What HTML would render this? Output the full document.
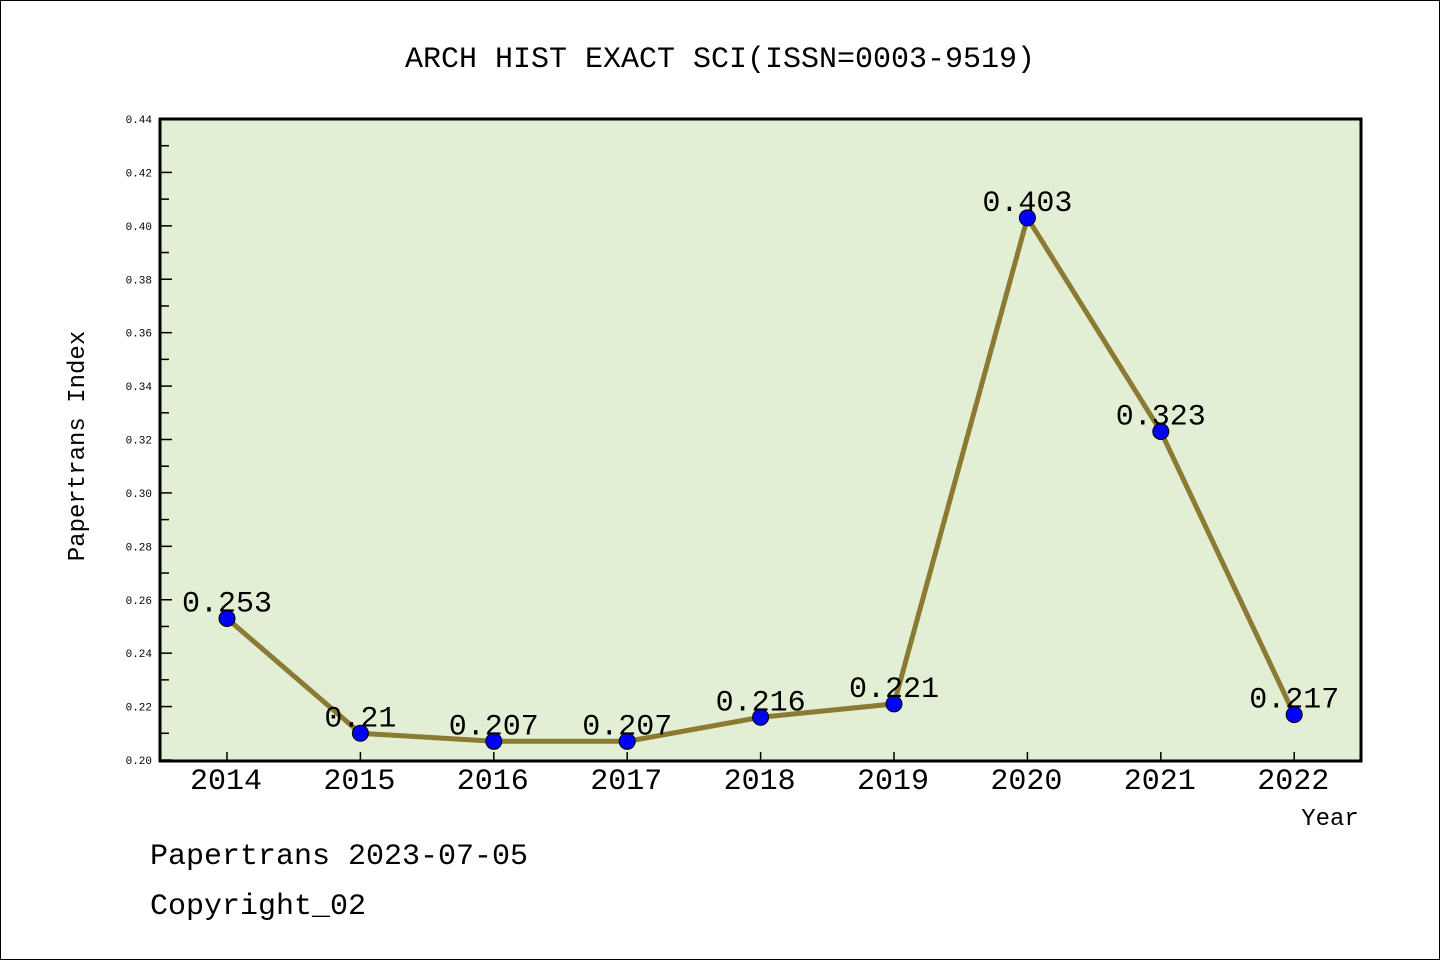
<!DOCTYPE html>
<html><head><meta charset="utf-8"><style>
html,body{margin:0;padding:0;background:#fff}
svg{display:block}
text{font-family:"Liberation Mono","Noto Sans CJK SC",monospace;fill:#000}
</style></head><body>
<svg id="chart" width="1440" height="960" viewBox="0 0 1440 960">
<rect x="0.5" y="0.5" width="1439" height="959" fill="#fff" stroke="#000" stroke-width="1"/>
<text x="720" y="67" font-size="30" text-anchor="middle">ARCH HIST EXACT SCI(ISSN=0003-9519)</text>
<rect x="160" y="119" width="1201" height="642" fill="#e2efd5"/>
<g id="axes"></g>
<g id="series"></g>
<rect x="160" y="119" width="1201" height="642" fill="none" stroke="#000" stroke-width="3"/>
<text transform="translate(84,446) rotate(-90)" font-size="24" text-anchor="middle">Papertrans Index</text>
<text x="1330" y="825" font-size="24" text-anchor="middle">Year</text>
<text x="150" y="864" font-size="30">Papertrans 2023-07-05</text>
<text x="150" y="914" font-size="30">Copyright_02</text>
</svg>
<script>
const years=["2014","2015","2016","2017","2018","2019","2020","2021","2022"];
const values=[0.253,0.21,0.207,0.207,0.216,0.221,0.403,0.323,0.217];
const valueLabels=["0.253","0.21","0.207","0.207","0.216","0.221","0.403","0.323","0.217"];
const yTicks=[0.20,0.22,0.24,0.26,0.28,0.30,0.32,0.34,0.36,0.38,0.40,0.42,0.44];
const NS="http://www.w3.org/2000/svg";
const yMin=0.20,yMax=0.44,plotTop=119,plotBot=760,plotLeft=160;
function ys(v){return plotBot-(v-yMin)/(yMax-yMin)*(plotBot-plotTop);}
function xs(i){return 227+i*133.4;}
function mk(tag,attrs,parent){const e=document.createElementNS(NS,tag);for(const k in attrs)e.setAttribute(k,attrs[k]);parent.appendChild(e);return e;}
const ax=document.getElementById('axes');
yTicks.forEach((t,i)=>{
  const y=ys(t);
  const tk=mk('line',{x1:plotLeft,x2:plotLeft+12,y1:y,y2:y,stroke:'#000','stroke-width':1.5},ax);
  
  
  const lb=mk('text',{x:plotLeft-8,y:y+4,'font-size':11,'text-anchor':'end'},ax);
  lb.textContent=t.toFixed(2);
  
  
  if(i<yTicks.length-1){
    const ym=ys(t+0.01);
    const mt=mk('line',{x1:plotLeft,x2:plotLeft+9,y1:ym,y2:ym,stroke:'#000','stroke-width':1.5},ax);
    
    
  }
});
years.forEach((yr,i)=>{
  const x=xs(i);
  const tk=mk('line',{x1:x,x2:x,y1:plotBot,y2:plotBot-8,stroke:'#000','stroke-width':1.5},ax);
  
  
  const lb=mk('text',{x:x-1,y:plotBot+29,'font-size':30,'text-anchor':'middle'},ax);
  lb.textContent=yr;
  
  
});
const sg=document.getElementById('series');
const pts=values.map((v,i)=>xs(i)+','+ys(v)).join(' ');
const line=mk('polyline',{points:pts,fill:'none',stroke:'#8b7a32','stroke-width':5,'stroke-linejoin':'round'},sg);


values.forEach((v,i)=>{
  const c=mk('circle',{cx:xs(i),cy:ys(v),r:8,fill:'#0000ff',stroke:'#000','stroke-width':1},sg);
  
  
  const t=mk('text',{x:xs(i),y:ys(v)-7,'font-size':30,'text-anchor':'middle'},sg);
  t.textContent=valueLabels[i];
  
  
});
</script>
</body></html>
